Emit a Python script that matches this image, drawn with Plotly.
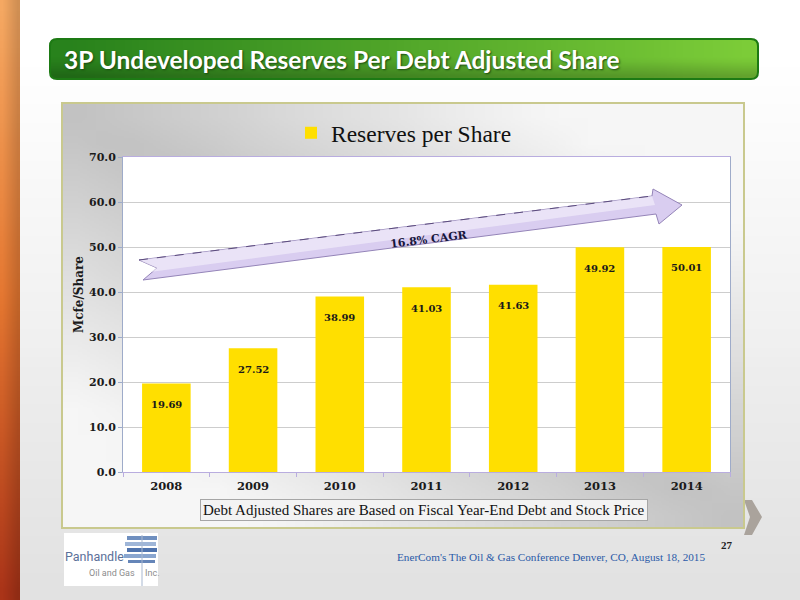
import base64
import struct
import zlib

import plotly.graph_objects as go

# Chart data
years = ["2008", "2009", "2010", "2011", "2012", "2013", "2014"]
reserves_per_share = [19.69, 27.52, 38.99, 41.03, 41.63, 49.92, 50.01]
series_name = "Reserves per Share"
y_ticks = [0, 10, 20, 30, 40, 50, 60, 70]

W, H = 800, 600


def px(x):
    return x / W


def py(y):
    return 1 - y / H


def png_uri(w, h, fn):
    # tiny RGB png, stretched later by the browser to get smooth gradients
    raw = b""
    for j in range(h):
        row = b"\x00"
        for i in range(w):
            row += bytes(fn(i / (w - 1), j / (h - 1)))
        raw += row

    def chunk(tag, data):
        c = struct.pack(">I", len(data)) + tag + data
        return c + struct.pack(">I", zlib.crc32(tag + data) & 0xFFFFFFFF)

    png = b"\x89PNG\r\n\x1a\n"
    png += chunk(b"IHDR", struct.pack(">IIBBBBB", w, h, 8, 2, 0, 0, 0))
    png += chunk(b"IDAT", zlib.compress(raw))
    png += chunk(b"IEND", b"")
    return "data:image/png;base64," + base64.b64encode(png).decode()


def mix(c0, c1, t):
    t = max(0.0, min(1.0, t))
    return [int(round(a + (b - a) * t)) for a, b in zip(c0, c1)]


def bg_fn(u, v):
    return mix((255, 255, 255), (226, 226, 226), (v - 0.1) / 0.9)


def sidebar_fn(u, v):
    if v < 0.5:
        c = mix((245, 168, 98), (228, 118, 48), v / 0.5)
    else:
        c = mix((228, 118, 48), (170, 52, 24), (v - 0.5) / 0.5)
    return mix(c, (c[0] * 0.85, c[1] * 0.85, c[2] * 0.85), u)


def panel_fn(u, v):
    d = min(1.0, abs(u - v) * 1.4)
    g = 194 + 52 * d
    return [int(g), int(g), int(g)]


def title_fn(u, v):
    c = mix((40, 130, 28), (124, 204, 56), u)
    return mix(c, (c[0] * 0.8, c[1] * 0.8, c[2] * 0.8), max(0.0, v - 0.5) * 2)


def img(src, x0, y0, x1, y1):
    return dict(
        source=src, xref="paper", yref="paper", x=px(x0), y=py(y0),
        sizex=px(x1) - px(x0), sizey=py(y0) - py(y1),
        xanchor="left", yanchor="top", sizing="stretch", layer="below",
    )


def rect(x0, y0, x1, y1, **kw):
    return dict(type="rect", xref="paper", yref="paper",
                x0=px(x0), y0=py(y0), x1=px(x1), y1=py(y1), **kw)


def line(x0, y0, x1, y1, **kw):
    return dict(type="line", xref="paper", yref="paper",
                x0=px(x0), y0=py(y0), x1=px(x1), y1=py(y1), **kw)


def path(points, **kw):
    d = "M " + " L ".join(f"{px(x)},{py(y)}" for x, y in points) + " Z"
    return dict(type="path", xref="paper", yref="paper", path=d, **kw)


def rounded(x0, y0, x1, y1, r):
    d = (
        f"M {px(x0 + r)},{py(y0)} L {px(x1 - r)},{py(y0)} "
        f"Q {px(x1)},{py(y0)} {px(x1)},{py(y0 + r)} L {px(x1)},{py(y1 - r)} "
        f"Q {px(x1)},{py(y1)} {px(x1 - r)},{py(y1)} L {px(x0 + r)},{py(y1)} "
        f"Q {px(x0)},{py(y1)} {px(x0)},{py(y1 - r)} L {px(x0)},{py(y0 + r)} "
        f"Q {px(x0)},{py(y0)} {px(x0 + r)},{py(y0)} Z"
    )
    return d


def note(text, x, y, xanchor="center", **kw):
    return dict(text=text, x=px(x), y=py(y), xref="paper", yref="paper",
                xanchor=xanchor, yanchor="middle", showarrow=False, **kw)


serif = "DejaVu Serif"
times = "Liberation Serif"
narrow = "Liberation Sans Narrow, Roboto"

fig = go.Figure()

fig.add_trace(
    go.Bar(
        x=years,
        y=reserves_per_share,
        name=series_name,
        marker=dict(color="#FFDF00", line=dict(width=0)),
        showlegend=True,
    )
)

images = [
    img(png_uri(4, 32, bg_fn), 0, 0, 800, 600),
    img(png_uri(4, 32, sidebar_fn), 0, 0, 20, 600),
    img(png_uri(24, 16, panel_fn), 62, 103, 744, 528),
    img(png_uri(24, 8, title_fn), 51, 40, 757, 78),
]

shapes = [
    # chevron at right of panel
    path([(744, 500), (752, 500), (762, 517), (752, 535), (744, 535), (750, 517)],
         fillcolor="#aaa39c", line=dict(width=0), layer="below"),
    # panel border
    rect(62, 103, 744, 528, line=dict(color="#c9c98e", width=2), layer="below"),
    # plot area
    rect(123, 157, 730, 472, fillcolor="white", line=dict(width=0), layer="below"),
    # title bar border
    dict(type="path", xref="paper", yref="paper", path=rounded(50, 39, 758, 79, 7),
         line=dict(color="#1d7a14", width=2), layer="below"),
    # logo
    rect(64, 533, 158, 586, fillcolor="white", line=dict(width=0), layer="below"),
    rect(127, 536, 157, 540, fillcolor="#6f8fbf", line=dict(width=0), layer="below"),
    rect(125, 542, 156, 546, fillcolor="#9fb6d8", line=dict(width=0), layer="below"),
    rect(127, 548, 157, 552, fillcolor="#4f73ad", line=dict(width=0), layer="below"),
    rect(124, 554, 156, 558, fillcolor="#8aa6cf", line=dict(width=0), layer="below"),
    rect(128, 560, 155, 563, fillcolor="#6585b8", line=dict(width=0), layer="below"),
    rect(141.5, 535, 142.5, 586, fillcolor="#a8b8d0", line=dict(width=0), layer="below"),
    # CAGR arrow
    path([(139, 260), (652, 196), (653, 189), (682, 205), (659, 224), (656, 214),
          (143, 280), (157, 268)],
         fillcolor="#d9cdf0", line=dict(color="#9484b8", width=1), layer="above"),
    path([(139, 260), (652, 196), (655, 205), (150, 272), (157, 268)],
         fillcolor="#f1ecfa", line=dict(width=0), opacity=0.7, layer="above"),
    line(139, 260, 652, 196, line=dict(color="#5a4a7c", width=1, dash="dash"),
         layer="above"),
]

annotations = [
    note("3P Undeveloped Reserves Per Debt Adjusted Share", 62, 59, xanchor="left",
         font=dict(family="Lato", size=24.5, color="white", weight="bold",
                   shadow="1px 1px 2px #1a4a10")),
    note("Mcfe/Share", 79, 295, textangle=-90,
         font=dict(family=serif, size=12, color="#1a1a1a", weight="bold")),
    note("16.8% CAGR", 429, 239, textangle=-7,
         font=dict(family=serif, size=11, color="#15153a", weight="bold")),
    note("Debt Adjusted Shares are Based on Fiscal Year-End Debt and Stock Price",
         424, 510, bgcolor="#f3f3f3", bordercolor="#a6a6a6", borderwidth=1,
         borderpad=2, font=dict(family=times, size=15, color="#111111")),
    note("27", 727, 545,
         font=dict(family=times, size=11, color="#222222", weight="bold")),
    note("EnerCom's The Oil &amp; Gas Conference Denver, CO, August 18, 2015",
         551, 557, font=dict(family=times, size=11.2, color="#2a5aa8")),
    note("Panhandle", 63, 556, xanchor="left",
         font=dict(family=narrow, size=12.5, color="#5b7099")),
    note("Oil and Gas", 137, 573, xanchor="right",
         font=dict(family=narrow, size=9, color="#8c8c8c")),
    note("Inc.", 143, 573, xanchor="left",
         font=dict(family=narrow, size=9, color="#8c8c8c")),
]

# value labels just inside the top of each bar (x as category index)
for i, v in enumerate(reserves_per_share):
    annotations.append(
        dict(x=i, y=v, xref="x", yref="y", text=f"{v:.2f}", showarrow=False,
             yshift=-21, font=dict(family=serif, size=10, color="#1a1a1a", weight="bold"))
    )

fig.update_layout(
    width=W,
    height=H,
    margin=dict(l=0, r=0, t=0, b=0, autoexpand=False),
    paper_bgcolor="white",
    plot_bgcolor="rgba(0,0,0,0)",
    bargap=0.44,
    images=images,
    shapes=shapes,
    annotations=annotations,
    legend=dict(
        orientation="h", x=px(291), y=py(133), xanchor="left", yanchor="middle",
        bgcolor="rgba(0,0,0,0)", font=dict(family=times, size=23.5, color="#111111"),
    ),
    xaxis=dict(
        type="category",
        range=[-0.5, len(years) - 0.5],
        domain=[px(123), px(730)],
        showline=True, linecolor="#b9addf", linewidth=1, mirror=True,
        ticks="outside", tickson="boundaries", ticklen=4, tickcolor="#b9addf",
        tickfont=dict(family=serif, size=11.5, color="#1a1a1a", weight="bold"),
        showgrid=False, ticklabelstandoff=3,
    ),
    yaxis=dict(
        domain=[py(472), py(157)],
        range=[0, 70], tickvals=y_ticks, tickformat=".1f",
        showline=True, linecolor="#9eabc9", linewidth=1, mirror=True,
        ticks="outside", ticklen=4, tickcolor="#9eabc9",
        tickfont=dict(family=serif, size=11, color="#1a1a1a", weight="bold"),
        gridcolor="#cdcdcd", gridwidth=1, zeroline=False,
    ),
)

fix_page = (
    "document.documentElement.style.margin='0';"
    "document.documentElement.style.overflow='hidden';"
    "document.body.style.margin='0';"
    "document.body.style.overflow='hidden';"
)

fig.write_html("out.html", config={"displayModeBar": False}, post_script=fix_page)
